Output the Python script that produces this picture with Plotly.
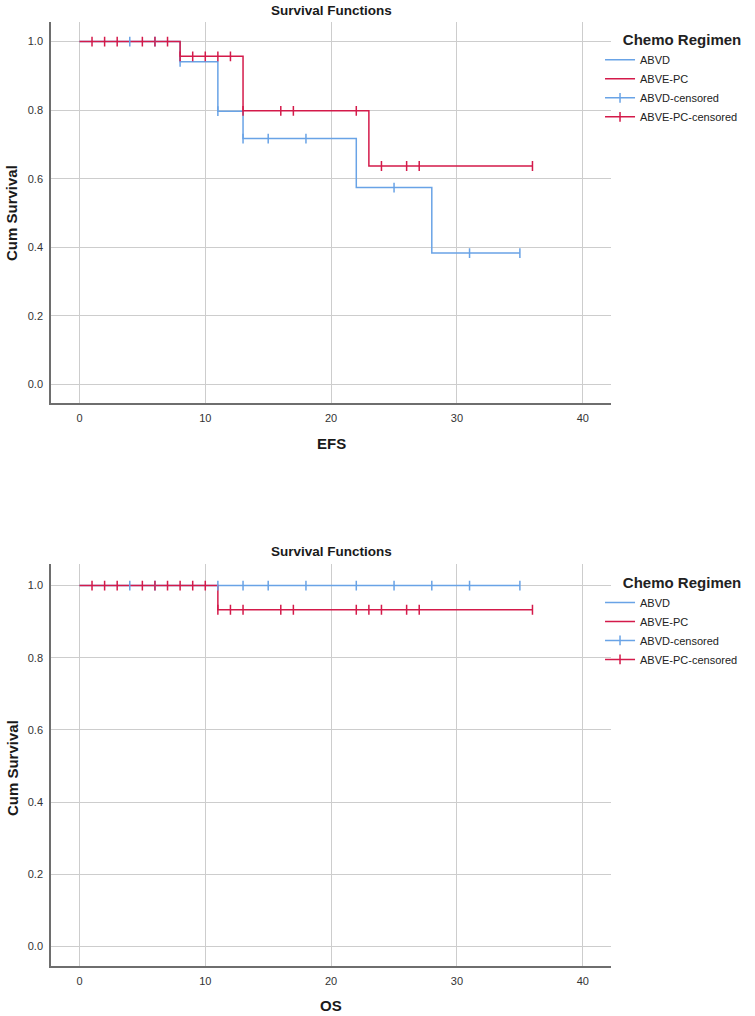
import numpy as np
import plotly.graph_objects as go

# ---------------- data ----------------
# EFS panel
efs_abvd_time = [0, 8, 11, 13, 22, 28, 35]
efs_abvd_surv = [1.0, 0.941, 0.797, 0.717, 0.574, 0.383, 0.383]
efs_abvd_cens = [4, 6, 8, 11, 13, 15, 18, 25, 31, 35]

efs_abve_time = [0, 8, 13, 23, 36]
efs_abve_surv = [1.0, 0.957, 0.798, 0.637, 0.637]
efs_abve_cens = [1, 2, 3, 5, 6, 7, 8, 9, 10, 11, 12, 13, 16, 17, 22, 24, 26, 27, 36]

# OS panel
os_abvd_time = [0, 35]
os_abvd_surv = [1.0, 1.0]
os_abvd_cens = [4, 6, 11, 13, 15, 18, 22, 25, 28, 31, 35]

os_abve_time = [0, 11, 36]
os_abve_surv = [1.0, 0.933, 0.933]
os_abve_cens = [1, 2, 3, 5, 6, 7, 8, 9, 10, 11, 12, 13, 16, 17, 22, 23, 24, 26, 27, 36]

group_names = ["ABVD", "ABVE-PC"]
legend_title = "Chemo Regimen"
panel_titles = ["EFS", "OS"]
x_ticks = [0, 10, 20, 30, 40]
y_ticks = [0.0, 0.2, 0.4, 0.6, 0.8, 1.0]

BLUE = "#69A3E6"
RED = "#D41A4A"
FONT = "Liberation Sans, Arial, sans-serif"


def censor_xy(times, surv, cens):
    t = np.asarray(times, float)
    s = np.asarray(surv, float)
    xs, ys = [], []
    for c in cens:
        idx = np.searchsorted(t, c, side="right") - 1
        xs += [c, None]
        ys += [float(s[idx]), None]
    return xs, ys


fig = go.Figure()

panels = [
    ("x", "y", "legend", [(efs_abvd_time, efs_abvd_surv, efs_abvd_cens),
                          (efs_abve_time, efs_abve_surv, efs_abve_cens)]),
    ("x2", "y2", "legend2", [(os_abvd_time, os_abvd_surv, os_abvd_cens),
                             (os_abve_time, os_abve_surv, os_abve_cens)]),
]

for xa, ya, lg, series in panels:
    colors = [BLUE, RED]
    # step lines
    for (t, s, c), name, col in zip(series, group_names, colors):
        fig.add_trace(go.Scatter(
            x=t, y=s, mode="lines", name=name,
            line=dict(shape="hv", width=1.5, color=col),
            xaxis=xa, yaxis=ya, legend=lg, hoverinfo="skip"))
    # censor marks
    for (t, s, c), name, col in zip(series, group_names, colors):
        cx, cy = censor_xy(t, s, c)
        fig.add_trace(go.Scatter(
            x=cx, y=cy, mode="lines+markers", name=name + "-censored",
            connectgaps=False,
            line=dict(width=1.5, color=col),
            marker=dict(symbol="line-ns", size=7, color=col,
                        line=dict(width=1.5, color=col)),
            xaxis=xa, yaxis=ya, legend=lg, hoverinfo="skip"))

axis_common = dict(
    showgrid=True, gridcolor="#cdcdcd", gridwidth=1.3,
    showline=True, linecolor="#6e6e6e", linewidth=1.6,
    zeroline=False, ticks="", ticklabelstandoff=4,
    tickfont=dict(family=FONT, size=11, color="#333333"),
)

NB = "\u00a0"
legend_common = dict(
    x=0.9804, xanchor="left", yanchor="top",
    bgcolor="rgba(0,0,0,0)",
    font=dict(family=FONT, size=11, color="#222222"),
    title=dict(text=NB * 5 + "<b>" + legend_title + "</b>",
               font=dict(family=FONT, size=15, color="#222222")),
    tracegroupgap=0,
)

fig.update_layout(
    width=755, height=1016,
    margin=dict(l=51, r=144, t=22, b=50, autoexpand=False),
    paper_bgcolor="white", plot_bgcolor="white",
    font=dict(family=FONT),
    xaxis=dict(domain=[0, 1], anchor="y", range=[-2.26, 42.24],
               tickmode="array", tickvals=x_ticks, **axis_common),
    yaxis=dict(domain=[0.596, 1], anchor="x", range=[-0.0554, 1.057],
               tickmode="array", tickvals=y_ticks, tickformat=".1f", **axis_common),
    xaxis2=dict(domain=[0, 1], anchor="y2", range=[-2.26, 42.24],
                tickmode="array", tickvals=x_ticks, **axis_common),
    yaxis2=dict(domain=[0, 0.4255], anchor="x2", range=[-0.0547, 1.059],
                tickmode="array", tickvals=y_ticks, tickformat=".1f", **axis_common),
    legend=dict(y=0.996, **legend_common),
    legend2=dict(y=0.4212, **legend_common),
    showlegend=True,
)

ann = []
for xr, ty, yl, xl, xt in [("x", 1.0127, 0.7977, 0.554, panel_titles[0]),
                           ("x2", 0.4396, 0.2097, -0.042, panel_titles[1])]:
    ann.append(dict(text="<b>Survival Functions</b>", xref=xr, yref="paper",
                    x=20, y=ty, showarrow=False, yanchor="middle",
                    font=dict(family=FONT, size=13.5, color="#1a1a1a")))
    ann.append(dict(text="<b>Cum Survival</b>", xref="paper", yref="paper",
                    x=-0.0696, y=yl, textangle=-90, showarrow=False,
                    xanchor="center", yanchor="middle",
                    font=dict(family=FONT, size=15, color="#1a1a1a")))
    ann.append(dict(text="<b>" + xt + "</b>", xref=xr, yref="paper",
                    x=20, y=xl, showarrow=False, yanchor="middle",
                    font=dict(family=FONT, size=15, color="#1a1a1a")))
fig.update_layout(annotations=ann)

fig.write_html("out.html")
